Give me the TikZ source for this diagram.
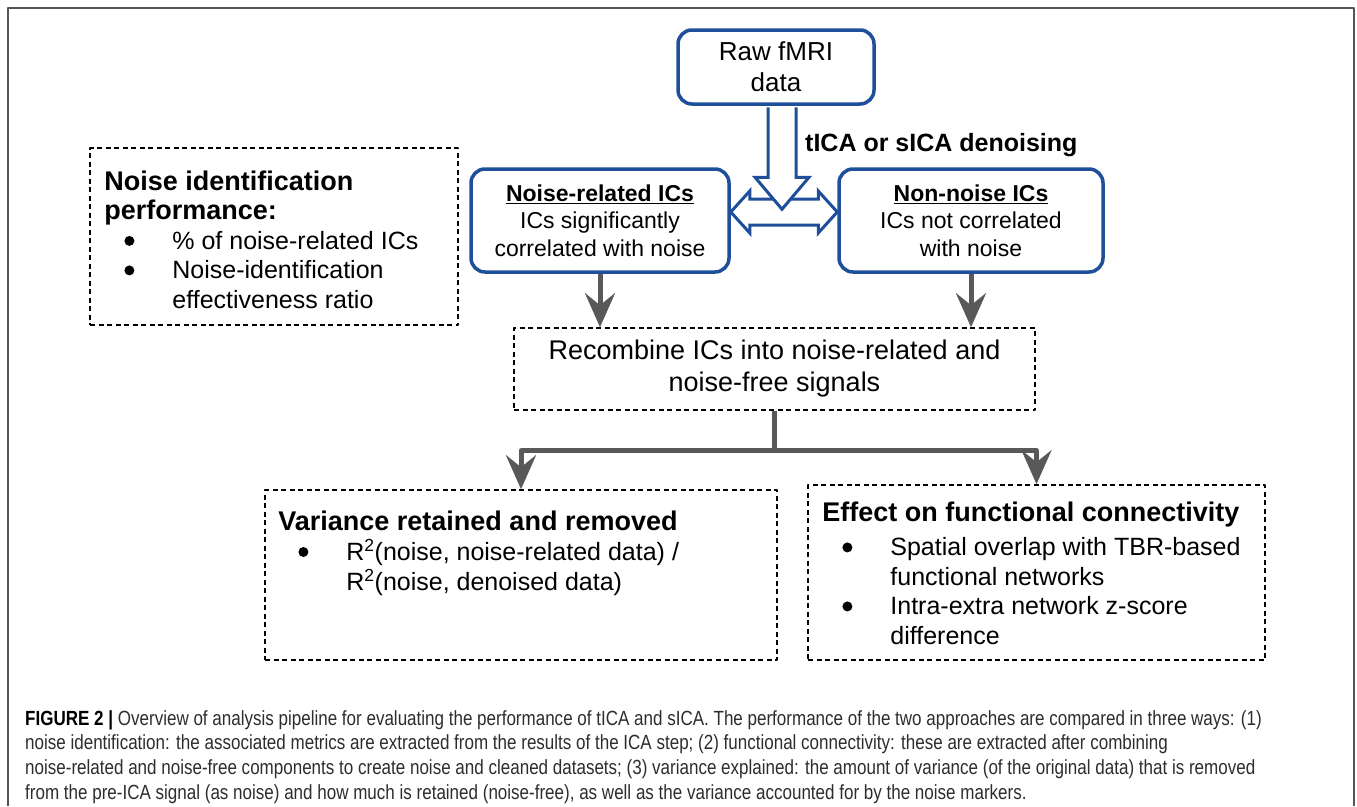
\documentclass[tikz,border=0pt]{standalone}
\usepackage{fontspec}
\setmainfont{Liberation Sans}
\newfontfamily\capfont[FakeStretch=0.83]{Liberation Sans}
\usetikzlibrary{positioning,arrows.meta}
\definecolor{boxblue}{RGB}{31,78,154}
\definecolor{arrowgray}{RGB}{89,89,89}
\definecolor{framegray}{RGB}{85,85,85}
\definecolor{captext}{RGB}{45,45,45}

\begin{document}
\begin{tikzpicture}[x=1pt,y=-1pt,line join=round]

    \newcommand{\bul}{\makebox[68pt][l]{\hspace*{20pt}\tikz[baseline=-8.5pt]\fill (0pt,0pt) circle (5pt);}}
    \newcommand{\nob}{\makebox[68pt]{}}
    \newcommand{\ttl}[1]{{\bfseries\fontsize{27}{29.5}\selectfont #1}}

    \tikzstyle{bluebox}=[draw=boxblue, line width=3.5pt, rounded corners=14pt, fill=white, align=center, inner sep=0pt, font=\fontsize{23}{27.5}\selectfont]
    \tikzstyle{dbox}=[draw=black, line width=1.6pt, dash pattern=on 5pt off 3.5pt, inner sep=0pt]
    \tikzstyle{lst}=[anchor=north west, inner sep=0pt, font=\fontsize{25}{29.5}\selectfont]
    \tikzstyle{flow}=[draw=arrowgray, line width=5pt, -{Stealth[length=34pt, width=30pt, inset=12pt]}]
    \tikzstyle{block}=[draw=boxblue, line width=3pt, fill=white, line join=miter]

    \useasboundingbox (0,0) rectangle (1357,806);
    \draw[framegray, line width=2pt] (8,806) -- (8,8) -- (1354,8) -- (1354,806);

    \node[bluebox, minimum width=196pt, minimum height=74pt, font=\fontsize{26}{31}\selectfont] (raw) at (776,67) {Raw fMRI\\data};
    \node[bluebox, minimum width=258pt, minimum height=103pt] (noise) at (600,220.5) {\underline{\textbf{Noise-related ICs}}\\ICs significantly\\correlated with noise};
    \node[bluebox, minimum width=264pt, minimum height=103pt] (clean) at (971,220.5) {\underline{\textbf{Non-noise ICs}}\\ICs not correlated\\with noise};

    \coordinate (dl) at ([yshift=8.5pt]noise.east);
    \coordinate (dr) at ([yshift=8.5pt]clean.west);
    \draw[block] (dl) -- ([shift={(19,-21)}]dl) -- ([shift={(19,-13)}]dl) -- ([shift={(-19,-13)}]dr) -- ([shift={(-19,-21)}]dr) -- (dr)
        -- ([shift={(-19,21)}]dr) -- ([shift={(-19,13)}]dr) -- ([shift={(19,13)}]dl) -- ([shift={(19,21)}]dl) -- cycle;

    \coordinate (dt) at ([xshift=6pt, yshift=-1.5pt]raw.south);
    \draw[block] ([shift={(-14,0)}]dt) -- ++(0,70) -- ++(-13,0) -- ([shift={(0,102)}]dt) -- ([shift={(27,70)}]dt) -- ++(-13,0) -- ([shift={(14,0)}]dt);
    \node[anchor=west, inner sep=0pt, font=\bfseries\fontsize{25}{30}\selectfont] (tica) at (805,145) {tICA or sICA denoising};

    \node[dbox, minimum width=521pt, minimum height=82pt, align=center, font=\fontsize{27}{32}\selectfont] (recomb) at (774.5,369) {Recombine ICs into noise-related and\\noise-free signals};
    \draw[flow] (noise.south) -- (noise.south |- recomb.north);
    \draw[flow] (clean.south) -- (clean.south |- recomb.north);

    \node[dbox, minimum width=368pt, minimum height=177pt] (nid) at (274,236.5) {};
    \node[lst] (nidtxt) at ([xshift=15pt, yshift=-22.35pt]nid.north west) {\begin{tabular}{@{}l@{}}
        \ttl{Noise identification}\\
        \ttl{performance:}\\
        \bul\% of noise-related ICs\\
        \bul Noise-identification\\
        \nob effectiveness ratio
    \end{tabular}};

    \node[dbox, minimum width=512pt, minimum height=170pt] (var) at (521,575) {};
    \node[lst] (vartxt) at ([xshift=14pt, yshift=-20.35pt]var.north west) {\begin{tabular}{@{}l@{}}
        \ttl{Variance retained and removed}\\
        \bul R\textsuperscript{2}(noise, noise-related data) /\\
        \nob R\textsuperscript{2}(noise, denoised data)
    \end{tabular}};

    \node[dbox, minimum width=457pt, minimum height=175pt] (eff) at (1036.5,572.5) {};
    \node[lst] (efftxt) at ([xshift=15pt, yshift=-16.4pt]eff.north west) {\begin{tabular}{@{}l@{}}
        \ttl{Effect on functional connectivity}\\[5pt]
        \bul Spatial overlap with TBR-based\\
        \nob functional networks\\
        \bul Intra-extra network z-score\\
        \nob difference
    \end{tabular}};

    \draw[flow] (recomb.south) -- ++(0,40) -| (var.north);
    \draw[flow] (recomb.south) -- ++(0,40) -| (eff.north);

    \node[anchor=north west, inner sep=0pt, align=left, text=captext, font=\capfont\fontsize{20.5}{24.7}\selectfont] (cap) at (25,710) {\textcolor{black}{\textbf{FIGURE 2 |}} Overview of analysis pipeline for evaluating the performance of tICA and sICA. The performance of the two approaches are compared in three ways: (1)\\
        noise identification: the associated metrics are extracted from the results of the ICA step; (2) functional connectivity: these are extracted after combining\\
        noise-related and noise-free components to create noise and cleaned datasets; (3) variance explained: the amount of variance (of the original data) that is removed\\
        from the pre-ICA signal (as noise) and how much is retained (noise-free), as well as the variance accounted for by the noise markers.};

\end{tikzpicture}
\end{document}
